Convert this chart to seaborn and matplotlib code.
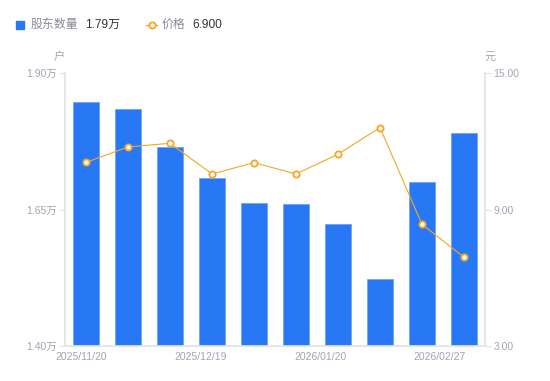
import numpy as np
import pandas as pd
import matplotlib
matplotlib.use("Agg")
import matplotlib.pyplot as plt
import seaborn as sns

# data
dates = ["2025/11/20", "2025/11/28", "2025/12/10", "2025/12/19", "2025/12/31",
         "2026/01/09", "2026/01/20", "2026/01/30", "2026/02/10", "2026/02/27"]
holders = [1.846, 1.834, 1.765, 1.707, 1.662, 1.660, 1.623, 1.523, 1.701, 1.791]  # 万户
price = [11.07, 11.75, 11.91, 10.56, 11.06, 10.56, 11.43, 12.60, 8.35, 6.90]     # 元
shown_labels = ["2025/11/20", "2025/12/19", "2026/01/20", "2026/02/27"]

BLUE = "#2878f5"
ORANGE = "#f5a623"
AXIS_GRAY = "#a3a3b3"
SPINE = "#e3e3e6"

sns.set_theme(style="white")
plt.rcParams["font.family"] = ["Liberation Sans", "Noto Sans CJK SC", "DejaVu Sans"]

df = pd.DataFrame({"date": dates, "holders": holders, "price": price})
df["pos"] = np.arange(len(df))

fig = plt.figure(figsize=(5.5, 3.81), dpi=100)
ax = fig.add_axes([65 / 550, 35 / 381, 420 / 550, 273 / 381])

sns.barplot(data=df, x="pos", y="holders", color=BLUE, width=0.6, saturation=1,
            edgecolor="#6fa5f7", linewidth=0.6, ax=ax)
ax.set_ylim(1.40, 1.90)
ax.set_xlim(-0.5, len(df) - 0.5)

ax2 = ax.twinx()
sns.lineplot(data=df, x="pos", y="price", color=ORANGE, linewidth=0.8, marker="o",
             markersize=4.5, markerfacecolor="white", markeredgecolor=ORANGE,
             markeredgewidth=1.3, ax=ax2)
ax2.set_ylim(3, 15)
ax2.set_xlim(-0.5, len(df) - 0.5)

# y ticks
ax.set_yticks([1.40, 1.65, 1.90])
ax.set_yticklabels([f"{v:.2f}万" for v in [1.40, 1.65, 1.90]])
ax2.set_yticks([3, 9, 15])
ax2.set_yticklabels([f"{v:.2f}" for v in [3, 9, 15]])

# x labels spread evenly like the original
label_pos = np.linspace(-0.11, 8.43, len(shown_labels))
ax.set_xticks(label_pos)
ax.set_xticklabels(shown_labels)

for a in (ax, ax2):
    a.set_xlabel("")
    a.set_ylabel("")
    for s in a.spines.values():
        s.set_visible(False)
    a.grid(False)

ax.spines["left"].set_visible(True)
ax.spines["left"].set_color(SPINE)
ax.spines["bottom"].set_visible(True)
ax.spines["bottom"].set_color(SPINE)
ax2.spines["right"].set_visible(True)
ax2.spines["right"].set_color(SPINE)

ax.tick_params(axis="y", colors=SPINE, labelcolor=AXIS_GRAY, labelsize=7.5,
               length=4, width=0.8, pad=2, left=True)
ax.tick_params(axis="x", labelcolor=AXIS_GRAY, labelsize=7.5, length=0, pad=4)
ax2.tick_params(axis="y", colors=SPINE, labelcolor=AXIS_GRAY, labelsize=7.5,
                length=4, width=0.8, pad=2, right=True)

# unit labels
fig.text(59 / 550, 1 - 57 / 381, "户", color=AXIS_GRAY, fontsize=8,
         ha="center", va="center")
fig.text(490 / 550, 1 - 57 / 381, "元", color=AXIS_GRAY, fontsize=8,
         ha="center", va="center")

# legend row at top
ly = 1 - 25 / 381
fig.patches.append(plt.Rectangle((16 / 550, 1 - 29 / 381), 8 / 550, 8 / 381,
                                 transform=fig.transFigure, color=BLUE, figure=fig))
fig.text(31 / 550, ly, "股东数量", color="#8a8a99", fontsize=8.6, va="center")
fig.text(85 / 550, ly, f"{holders[-1]:.2f}万", color="#333333", fontsize=8.6, va="center")
fig.lines.append(plt.Line2D([146 / 550, 157 / 550], [ly, ly], transform=fig.transFigure,
                            color=ORANGE, linewidth=1, figure=fig))
fig.lines.append(plt.Line2D([151.5 / 550], [ly], transform=fig.transFigure,
                            color=ORANGE, marker="o", markersize=4.5,
                            markerfacecolor="white", markeredgewidth=1.3, figure=fig))
fig.text(162 / 550, ly, "价格", color="#8a8a99", fontsize=8.6, va="center")
fig.text(192 / 550, ly, f"{price[-1]:.3f}", color="#333333", fontsize=8.6, va="center")

fig.savefig("out.png", dpi=100)
